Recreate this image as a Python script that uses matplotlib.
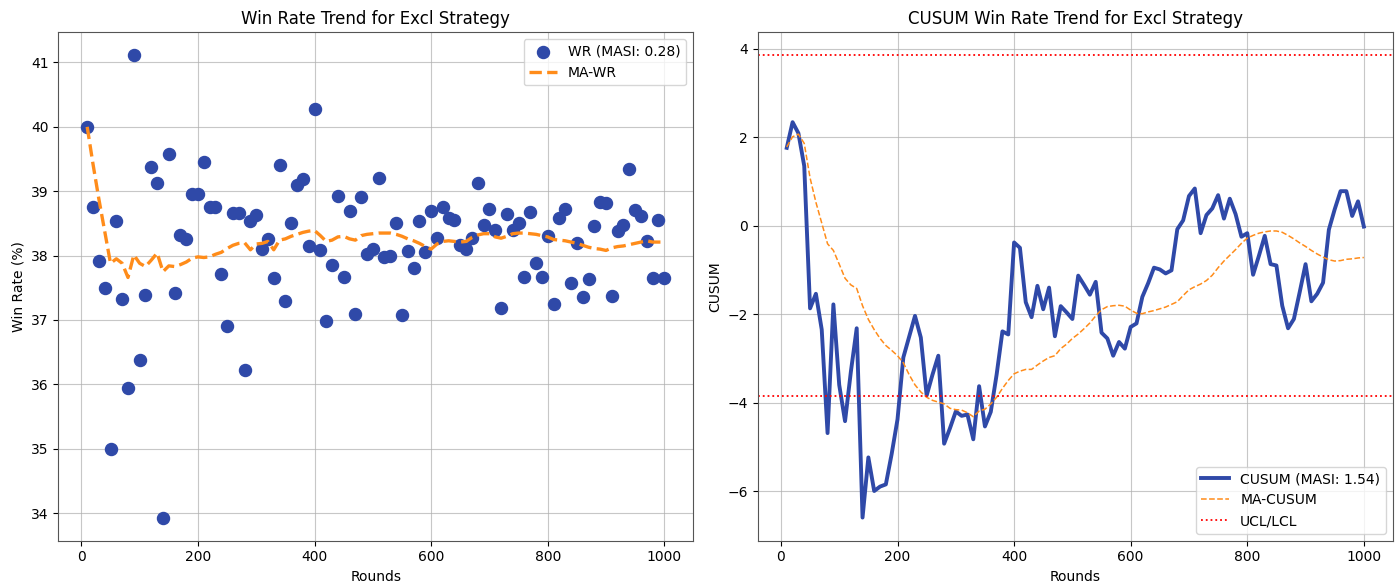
import numpy as np
import matplotlib
matplotlib.use("Agg")
import matplotlib.pyplot as plt

# rounds 10..1000 step 10
rounds = list(range(10, 1001, 10))

# win rate (%) per checkpoint
wr = [40.00, 38.75, 37.92, 37.50, 35.00, 38.54, 37.33, 35.94, 41.11, 36.38,
      37.39, 39.38, 39.13, 33.93, 39.58, 37.42, 38.32, 38.26, 38.95, 38.95,
      39.46, 38.75, 38.75, 37.71, 36.91, 38.66, 38.66, 36.22, 38.53, 38.63,
      38.10, 38.25, 37.65, 39.41, 37.30, 38.51, 39.09, 39.19, 38.15, 40.28,
      38.08, 36.99, 37.85, 38.92, 37.67, 38.70, 37.10, 38.91, 38.02, 38.11,
      39.20, 37.98, 38.00, 38.51, 37.08, 38.07, 37.81, 38.53, 38.06, 38.69,
      38.28, 38.75, 38.59, 38.55, 38.17, 38.11, 38.28, 39.12, 38.47, 38.72,
      38.40, 37.18, 38.64, 38.39, 38.51, 37.67, 38.67, 37.88, 37.67, 38.31,
      37.25, 38.58, 38.73, 37.57, 38.19, 37.36, 37.64, 38.46, 38.83, 38.81,
      37.37, 38.38, 38.48, 39.34, 38.71, 38.62, 38.22, 37.65, 38.56, 37.65]

ma_wr = [40.00, 39.42, 38.88, 38.38, 37.88, 37.95, 37.88, 37.66, 38.01, 37.88,
         37.83, 37.93, 38.04, 37.75, 37.84, 37.83, 37.86, 37.90, 37.96, 37.98,
         37.97, 37.98, 38.02, 38.05, 38.11, 38.16, 38.19, 38.20, 38.09, 38.18,
         38.19, 38.22, 38.09, 38.24, 38.26, 38.30, 38.33, 38.36, 38.38, 38.39,
         38.31, 38.22, 38.24, 38.29, 38.30, 38.26, 38.24, 38.31, 38.33, 38.34,
         38.35, 38.35, 38.35, 38.33, 38.30, 38.26, 38.23, 38.19, 38.14, 38.10,
         38.18, 38.22, 38.23, 38.22, 38.21, 38.22, 38.28, 38.32, 38.34, 38.34,
         38.29, 38.27, 38.30, 38.34, 38.35, 38.35, 38.34, 38.33, 38.31, 38.29,
         38.25, 38.24, 38.23, 38.21, 38.19, 38.16, 38.13, 38.11, 38.10, 38.08,
         38.12, 38.14, 38.15, 38.17, 38.19, 38.21, 38.23, 38.21, 38.21, 38.21]

cusum = [1.76, 2.34, 2.09, 1.35, -1.87, -1.54, -2.35, -4.69, -1.78, -3.60,
         -4.42, -3.30, -2.32, -6.60, -5.24, -6.00, -5.90, -5.85, -5.16, -4.38,
         -2.98, -2.51, -2.04, -2.53, -3.84, -3.37, -2.94, -4.93, -4.58, -4.20,
         -4.30, -4.27, -4.83, -3.63, -4.54, -4.21, -3.37, -2.39, -2.46, -0.38,
         -0.50, -1.73, -2.07, -1.36, -1.89, -1.40, -2.50, -1.82, -1.96, -2.11,
         -1.13, -1.34, -1.56, -1.27, -2.42, -2.55, -2.94, -2.63, -2.78, -2.29,
         -2.21, -1.61, -1.30, -0.95, -0.99, -1.08, -1.01, -0.08, 0.12, 0.67,
         0.84, -0.17, 0.24, 0.39, 0.69, 0.16, 0.61, 0.26, -0.25, -0.17,
         -1.11, -0.68, -0.23, -0.87, -0.90, -1.81, -2.32, -2.11, -1.50, -0.87,
         -1.71, -1.54, -1.29, -0.09, 0.37, 0.78, 0.78, 0.22, 0.55, -0.02]

ma_cusum = [1.78, 2.01, 2.07, 1.86, 1.08, 0.53, 0.06, -0.41, -0.56, -0.87,
            -1.19, -1.34, -1.42, -1.81, -2.12, -2.35, -2.55, -2.71, -2.82, -2.94,
            -3.10, -3.37, -3.60, -3.76, -3.88, -3.95, -3.99, -4.03, -4.13, -4.16,
            -4.17, -4.23, -4.32, -4.19, -4.15, -4.03, -3.88, -3.68, -3.50, -3.35,
            -3.29, -3.25, -3.25, -3.15, -3.06, -2.98, -2.94, -2.78, -2.68, -2.55,
            -2.45, -2.33, -2.20, -2.04, -1.90, -1.83, -1.81, -1.80, -1.82, -1.91,
            -1.98, -1.99, -1.95, -1.92, -1.88, -1.84, -1.78, -1.72, -1.58, -1.45,
            -1.38, -1.32, -1.24, -1.12, -0.95, -0.80, -0.67, -0.54, -0.40, -0.28,
            -0.22, -0.17, -0.14, -0.12, -0.12, -0.15, -0.22, -0.30, -0.39, -0.47,
            -0.56, -0.64, -0.71, -0.77, -0.80, -0.79, -0.76, -0.75, -0.73, -0.72]

ucl = 3.85
lcl = -3.85
wr_masi = 0.28
cusum_masi = 1.54

blue = '#2f49a8'
orange = '#ff8c1a'

fig, (ax1, ax2) = plt.subplots(1, 2, figsize=(13.99, 5.84), dpi=100)
fig.subplots_adjust(left=0.0417, right=0.9955, top=0.9447, bottom=0.0742, wspace=0.102)

## left: win rate scatter + moving average
ax1.scatter(rounds, wr, s=75, color=blue, label='WR (MASI: %.2f)' % wr_masi, zorder=3)
ax1.plot(rounds, ma_wr, '--', color=orange, lw=2.4, label='MA-WR', zorder=4)
ax1.set_title('Win Rate Trend for Excl Strategy', fontsize=12)
ax1.set_xlabel('Rounds')
ax1.set_ylabel('Win Rate (%)')
ax1.grid(True, alpha=0.7)
ax1.legend(loc='upper right')

## right: CUSUM + control limits
ax2.plot(rounds, cusum, '-', color=blue, lw=2.8, label='CUSUM (MASI: %.2f)' % cusum_masi)
ax2.plot(rounds, ma_cusum, '--', color=orange, lw=1.1, label='MA-CUSUM')
ax2.axhline(ucl, color='red', ls=':', lw=1.3, label='UCL/LCL')
ax2.axhline(lcl, color='red', ls=':', lw=1.3)
ax2.set_title('CUSUM Win Rate Trend for Excl Strategy', fontsize=12)
ax2.set_xlabel('Rounds')
ax2.set_ylabel('CUSUM')
ax2.grid(True, alpha=0.7)
ax2.legend(loc='lower right')

for ax in (ax1, ax2):
    for sp in ax.spines.values():
        sp.set_color('#555555')

fig.savefig('out.png', dpi=100)
